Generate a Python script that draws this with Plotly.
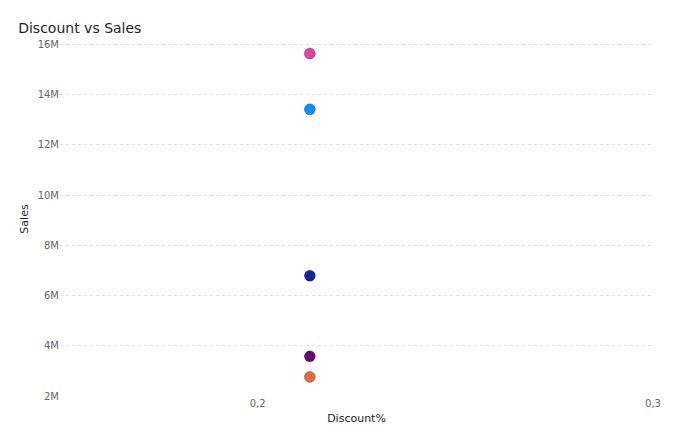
import plotly.graph_objects as go

discount = [0.2132, 0.2132, 0.2132, 0.2132, 0.2132]
sales = [15.64e6, 13.42e6, 6.79e6, 3.58e6, 2.76e6]
colors = ["#E044A7", "#118DFF", "#12239E", "#6B007B", "#E66C37"]
y_tickvals = [2e6, 4e6, 6e6, 8e6, 10e6, 12e6, 14e6, 16e6]
y_ticktext = ["2M", "4M", "6M", "8M", "10M", "12M", "14M", "16M"]
x_tickvals = [0.2, 0.3]
x_ticktext = ["0,2", "0,3"]

fig = go.Figure(go.Scatter(
    x=discount, y=sales, mode="markers",
    marker=dict(size=11, color=colors, line=dict(width=1, color="rgba(0,0,0,0.25)")),
))
fig.update_layout(
    width=680, height=440, plot_bgcolor="white", paper_bgcolor="white",
    margin=dict(l=52, r=35, t=34, b=52),
    font=dict(family="Segoe UI, DejaVu Sans, sans-serif", color="#666666", size=10),
    title=dict(text="Discount vs Sales", x=0.015, y=0.955, xanchor="left", yanchor="middle",
               font=dict(size=14, color="#252423")),
    showlegend=False,
)
fig.update_xaxes(range=[0.15, 0.3], tickvals=x_tickvals, ticktext=x_ticktext, showgrid=False,
                 zeroline=False, showline=False,
                 title=dict(text="Discount%", font=dict(size=11, color="#252423"), standoff=6))
fig.update_yaxes(range=[2e6, 16.1e6], tickvals=y_tickvals, ticktext=y_ticktext, showgrid=True,
                 gridcolor="#E0E0E0", griddash="dot", zeroline=False, showline=False,
                 title=dict(text="Sales", font=dict(size=11, color="#252423"), standoff=6))
fig.write_html("out.html")
